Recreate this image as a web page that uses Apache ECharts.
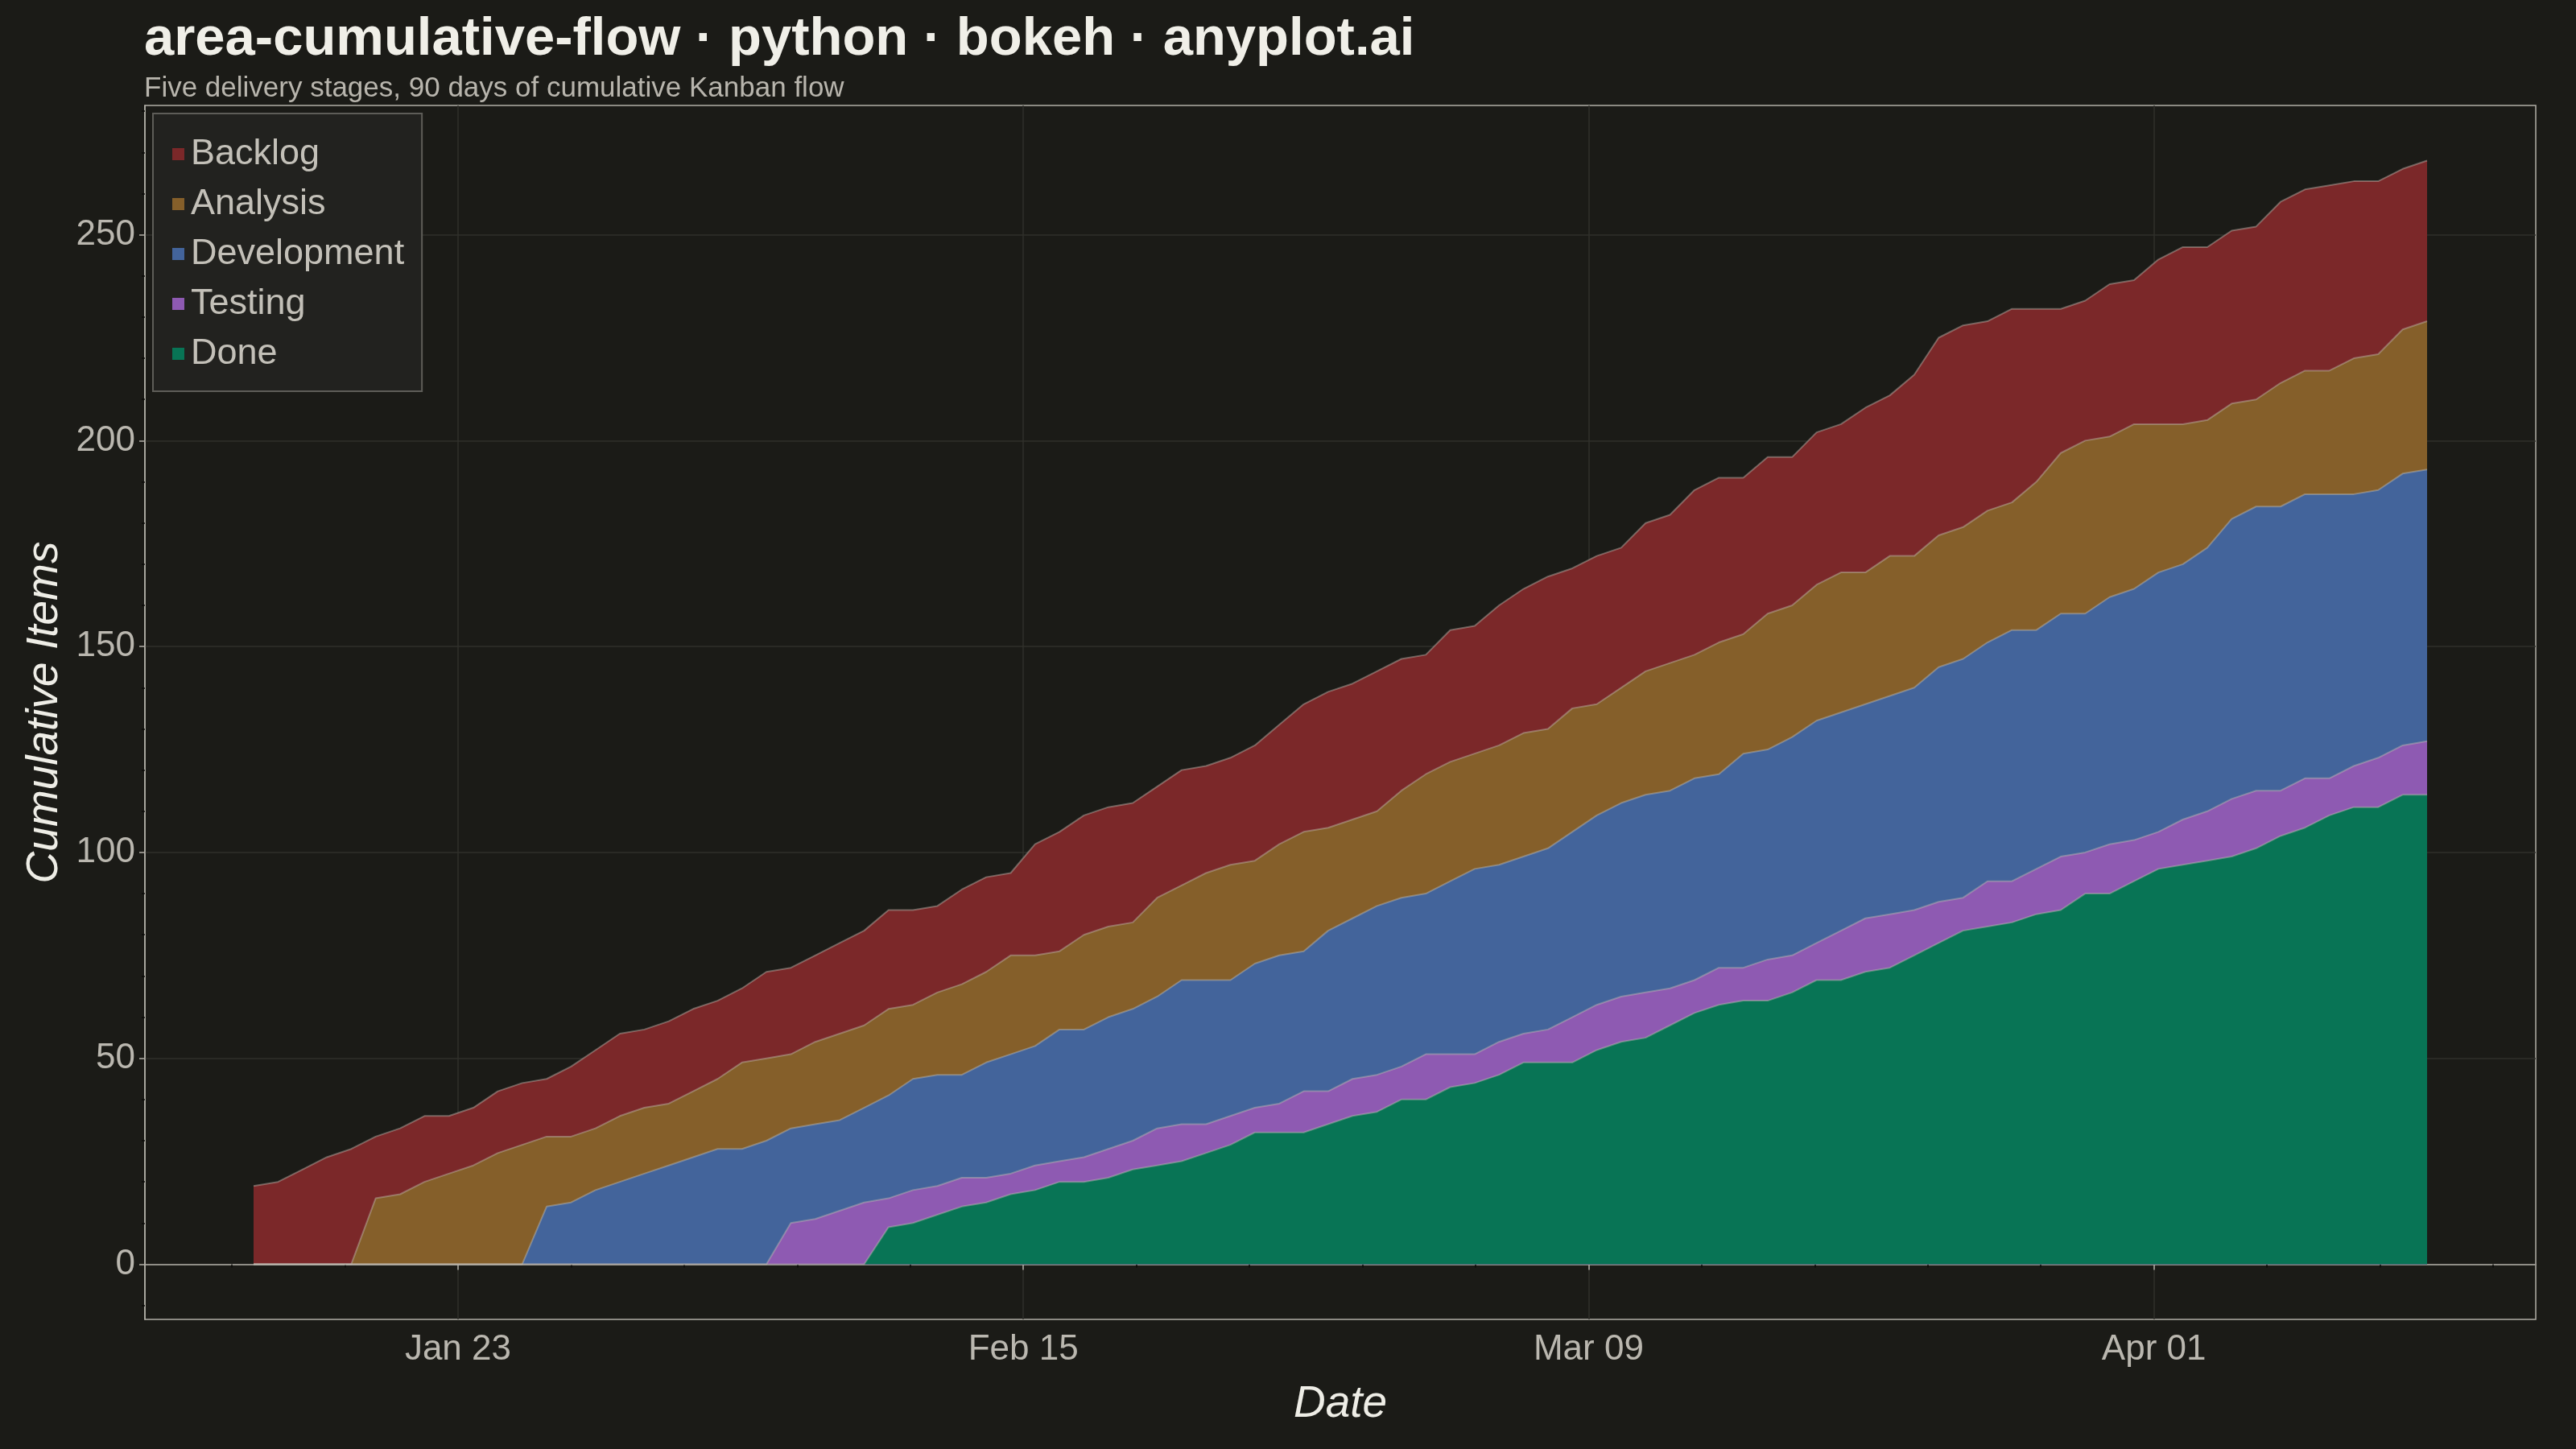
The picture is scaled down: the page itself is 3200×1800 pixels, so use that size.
<!DOCTYPE html>
<html>
<head>
<meta charset="utf-8">
<title>area-cumulative-flow</title>
<script src="https://cdn.jsdelivr.net/npm/echarts@6/dist/echarts.min.js"></script>
<style>
  html, body { margin: 0; padding: 0; background: #1b1b17; }
  #chart { width: 3200px; height: 1800px; }
</style>
</head>
<body>
<div id="chart"></div>
<script>
// cumulative counts that reached each stage, one value per day (Jan 15 -> Apr 13, 2024)
var stages = ['Backlog', 'Analysis', 'Development', 'Testing', 'Done'];

var backlogCum = [19, 20, 23, 26, 28, 31, 33, 36, 36, 38, 42, 44, 45, 48, 52, 56, 57, 59, 62, 64, 67, 71, 72,
  75, 78, 81, 86, 86, 87, 91, 94, 95, 102, 105, 109, 111, 112, 116, 120, 121, 123, 126, 131, 136, 139, 141,
  144, 147, 148, 154, 155, 160, 164, 167, 169, 172, 174, 180, 182, 188, 191, 191, 196, 196, 202, 204, 208, 211, 216,
  225, 228, 229, 232, 232, 232, 234, 238, 239, 244, 247, 247, 251, 252, 258, 261, 262, 263, 263, 266, 268];

var analysisCum = [0, 0, 0, 0, 0, 16, 17, 20, 22, 24, 27, 29, 31, 31, 33, 36, 38, 39, 42, 45, 49, 50, 51,
  54, 56, 58, 62, 63, 66, 68, 71, 75, 75, 76, 80, 82, 83, 89, 92, 95, 97, 98, 102, 105, 106, 108,
  110, 115, 119, 122, 124, 126, 129, 130, 135, 136, 140, 144, 146, 148, 151, 153, 158, 160, 165, 168, 168, 172, 172,
  177, 179, 183, 185, 190, 197, 200, 201, 204, 204, 204, 205, 209, 210, 214, 217, 217, 220, 221, 227, 229];

var developmentCum = [0, 0, 0, 0, 0, 0, 0, 0, 0, 0, 0, 0, 14, 15, 18, 20, 22, 24, 26, 28, 28, 30, 33,
  34, 35, 38, 41, 45, 46, 46, 49, 51, 53, 57, 57, 60, 62, 65, 69, 69, 69, 73, 75, 76, 81, 84,
  87, 89, 90, 93, 96, 97, 99, 101, 105, 109, 112, 114, 115, 118, 119, 124, 125, 128, 132, 134, 136, 138, 140,
  145, 147, 151, 154, 154, 158, 158, 162, 164, 168, 170, 174, 181, 184, 184, 187, 187, 187, 188, 192, 193];

var testingCum = [0, 0, 0, 0, 0, 0, 0, 0, 0, 0, 0, 0, 0, 0, 0, 0, 0, 0, 0, 0, 0, 0, 10,
  11, 13, 15, 16, 18, 19, 21, 21, 22, 24, 25, 26, 28, 30, 33, 34, 34, 36, 38, 39, 42, 42, 45,
  46, 48, 51, 51, 51, 54, 56, 57, 60, 63, 65, 66, 67, 69, 72, 72, 74, 75, 78, 81, 84, 85, 86,
  88, 89, 93, 93, 96, 99, 100, 102, 103, 105, 108, 110, 113, 115, 115, 118, 118, 121, 123, 126, 127];

var doneCum = [0, 0, 0, 0, 0, 0, 0, 0, 0, 0, 0, 0, 0, 0, 0, 0, 0, 0, 0, 0, 0, 0, 0,
  0, 0, 0, 9, 10, 12, 14, 15, 17, 18, 20, 20, 21, 23, 24, 25, 27, 29, 32, 32, 32, 34, 36,
  37, 40, 40, 43, 44, 46, 49, 49, 49, 52, 54, 55, 58, 61, 63, 64, 64, 66, 69, 69, 71, 72, 75,
  78, 81, 82, 83, 85, 86, 90, 90, 93, 96, 97, 98, 99, 101, 104, 106, 109, 111, 111, 114, 114];

// bokeh put its date ticks every 2e9 ms
var xTickValues = [1706000000000, 1708000000000, 1710000000000, 1712000000000];
var yTickValues = [0, 50, 100, 150, 200, 250];

var colors = ['#7b2829', '#855f2a', '#43649b', '#8e5ab2', '#087455'];

var DAY = 86400000;
var startTs = Date.UTC(2024, 0, 15);
var dates = backlogCum.map(function (v, i) { return startTs + i * DAY; });
var endTs = dates[dates.length - 1];
var xPad = (endTs - startTs) * 0.05;
var xMin = startTs - xPad, xMax = endTs + xPad;
var yMax = 268, yMin = -0.05 * yMax, yTop = yMax * 1.05;

var MONTHS = ['Jan', 'Feb', 'Mar', 'Apr', 'May', 'Jun', 'Jul', 'Aug', 'Sep', 'Oct', 'Nov', 'Dec'];
function fmtDate(v) {
  var d = new Date(v);
  var dd = d.getUTCDate();
  return MONTHS[d.getUTCMonth()] + ' ' + (dd < 10 ? '0' + dd : dd);
}

// minor ticks: 5 per major interval, like bokeh
var xMinor = [];
for (var t = Math.ceil(xMin / 4e8) * 4e8; t <= xMax; t += 4e8) {
  if (t % 2e9 !== 0) xMinor.push(t);
}
var yMinor = [];
for (var yv = -10; yv <= yTop; yv += 10) {
  if (yv % 50 !== 0) yMinor.push(yv);
}

// each boundary filled down to zero, drawn from the top stage down so they layer up
var cums = [backlogCum, analysisCum, developmentCum, testingCum, doneCum];
var series = stages.map(function (name, k) {
  return {
    name: name,
    type: 'line',
    data: cums[k].map(function (v, i) { return [dates[i], v]; }),
    showSymbol: false,
    symbol: 'none',
    lineStyle: { color: 'rgba(190,186,178,0.45)', width: 2 },
    areaStyle: { color: colors[k], opacity: 1, origin: 'auto' },
    itemStyle: { color: colors[k] },
    emphasis: { disabled: true },
    z: 2 + k
  };
});

var FONT = 'Liberation Sans, Arial, Helvetica, sans-serif';
var AXIS_COLOR = '#b3b0a8';
var LABEL_COLOR = '#bab7af';

var chart = echarts.init(document.getElementById('chart'), null, { renderer: 'canvas' });
var option = {
  backgroundColor: '#1b1b17',
  animation: false,
  title: {
    text: 'area-cumulative-flow · python · bokeh · anyplot.ai',
    subtext: 'Five delivery stages, 90 days of cumulative Kanban flow',
    left: 174,
    top: 11,
    itemGap: 10,
    textStyle: { fontFamily: FONT, fontSize: 67, fontWeight: 'bold', color: '#f0efe8' },
    subtextStyle: { fontFamily: FONT, fontSize: 35, color: '#b8b5ad' }
  },
  legend: {
    data: stages,
    orient: 'vertical',
    left: 190,
    top: 141,
    padding: [28, 22, 24, 24],
    itemGap: 17,
    itemWidth: 15,
    itemHeight: 15,
    icon: 'rect',
    backgroundColor: '#22221f',
    borderColor: '#5e5d58',
    borderWidth: 2,
    textStyle: { fontFamily: FONT, fontSize: 45, color: '#c3c0b8', padding: [0, 0, 0, 3] }
  },
  grid: {
    left: 180, right: 50, top: 131, bottom: 161,
    show: true,
    borderColor: AXIS_COLOR,
    borderWidth: 1.5,
    backgroundColor: 'transparent'
  },
  xAxis: [{
    type: 'value',
    min: xMin, max: xMax,
    name: 'Date',
    nameLocation: 'middle',
    nameGap: 78,
    nameTextStyle: { fontFamily: FONT, fontSize: 55, fontStyle: 'italic', color: '#eeede6' },
    axisLine: { show: true, lineStyle: { color: AXIS_COLOR, width: 1.5 } },
    axisTick: { show: true, customValues: xTickValues, length: 7, lineStyle: { color: AXIS_COLOR, width: 1.5 } },
    axisLabel: {
      customValues: xTickValues, formatter: fmtDate, margin: 16,
      fontFamily: FONT, fontSize: 44, color: LABEL_COLOR
    },
    splitLine: { show: true, lineStyle: { color: '#30302b', width: 1.5 } }
  }, {
    type: 'value',
    min: xMin, max: xMax,
    position: 'bottom',
    axisLine: { show: false },
    axisTick: { show: true, customValues: xMinor, length: 4, lineStyle: { color: '#0b0b09', width: 1.5 } },
    axisLabel: { show: false },
    splitLine: { show: false }
  }],
  yAxis: [{
    type: 'value',
    min: yMin, max: yTop,
    name: 'Cumulative Items',
    nameLocation: 'middle',
    nameGap: 96,
    nameTextStyle: { fontFamily: FONT, fontSize: 55, fontStyle: 'italic', color: '#eeede6' },
    axisLine: { show: true, lineStyle: { color: AXIS_COLOR, width: 1.5 } },
    axisTick: { show: true, customValues: yTickValues, length: 7, lineStyle: { color: AXIS_COLOR, width: 1.5 } },
    axisLabel: {
      customValues: yTickValues, margin: 12,
      fontFamily: FONT, fontSize: 44, color: LABEL_COLOR
    },
    splitLine: { show: true, lineStyle: { color: '#30302b', width: 1.5 } }
  }, {
    type: 'value',
    min: yMin, max: yTop,
    position: 'left',
    axisLine: { show: false },
    axisTick: { show: true, customValues: yMinor, length: 4, lineStyle: { color: '#0b0b09', width: 1.5 } },
    axisLabel: { show: false },
    splitLine: { show: false }
  }],
  series: series
};
chart.setOption(option);
</script>
</body>
</html>
